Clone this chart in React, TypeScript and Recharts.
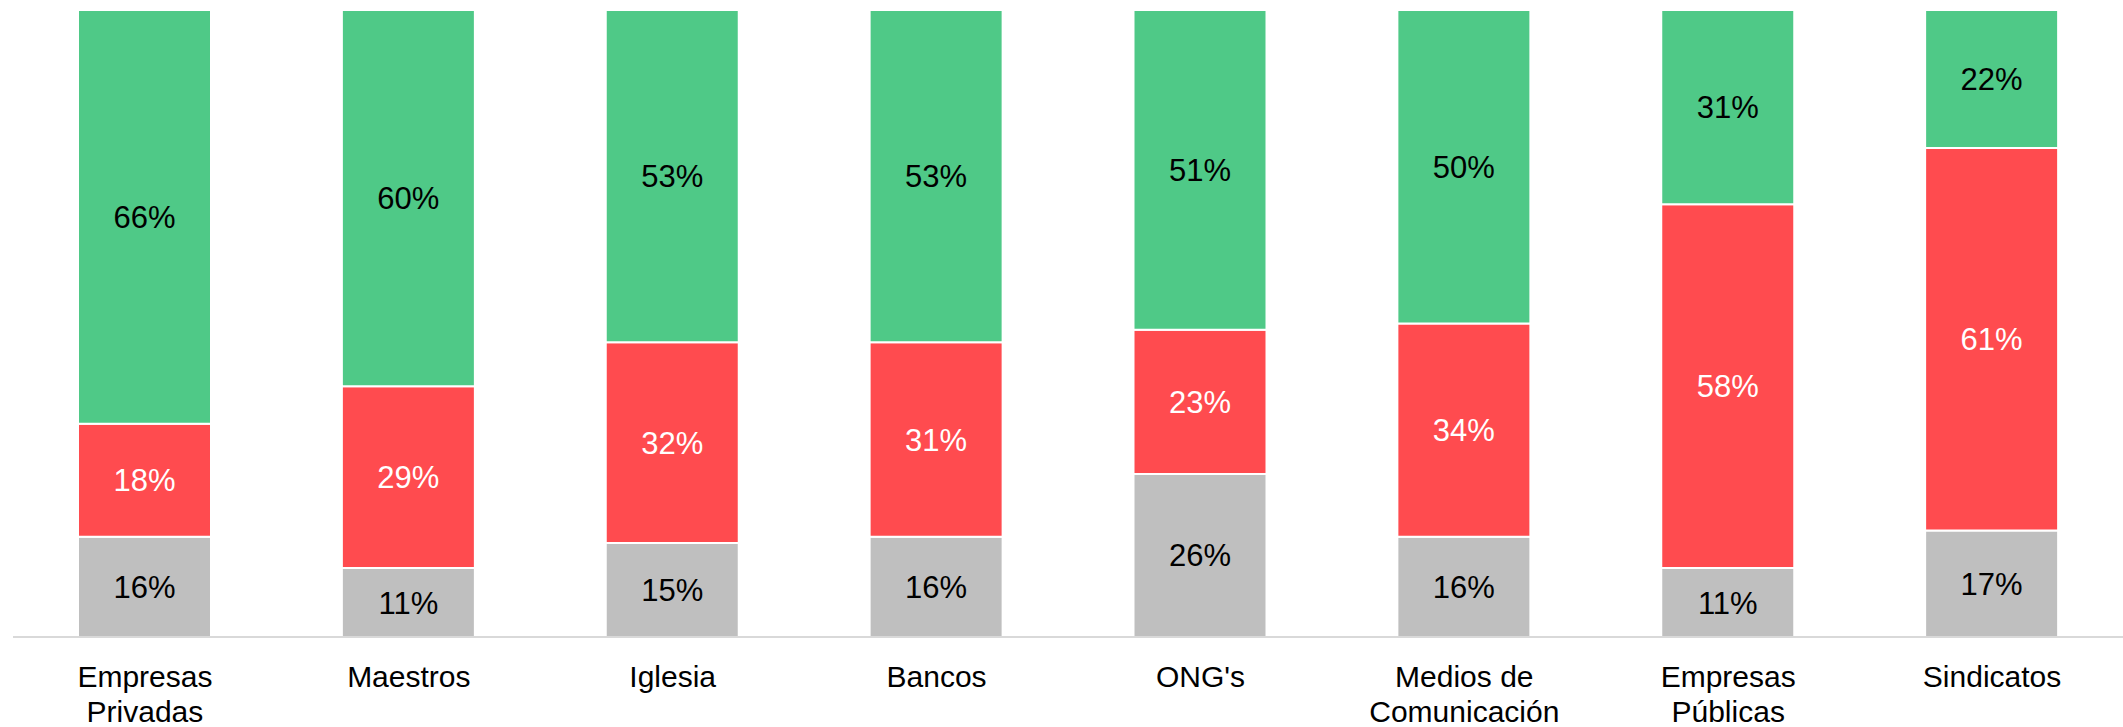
import { BarChart, Bar, XAxis, YAxis, LabelList } from 'recharts';

const categories = [
  'Empresas Privadas',
  'Maestros',
  'Iglesia',
  'Bancos',
  "ONG's",
  'Medios de Comunicación',
  'Empresas Públicas',
  'Sindicatos',
];

// lines used for the two-row axis labels
const tickLines: Record<string, string[]> = {
  'Empresas Privadas': ['Empresas', 'Privadas'],
  'Medios de Comunicación': ['Medios de', 'Comunicación'],
  'Empresas Públicas': ['Empresas', 'Públicas'],
};

const neutral = [16, 11, 15, 16, 26, 16, 11, 17];
const negative = [18, 29, 32, 31, 23, 34, 58, 61];
const positive = [66, 60, 53, 53, 51, 50, 31, 22];

const data = categories.map((name, i) => ({
  name,
  neutral: neutral[i],
  negative: negative[i],
  positive: positive[i],
}));

const LABEL_FONT = 31;
const TICK_FONT = 30;

const CategoryTick = ({ x, y, payload }: any) => {
  const lines = tickLines[payload.value] || [payload.value];
  return (
    <text x={x} y={y} textAnchor="middle" fill="#000" fontSize={TICK_FONT}>
      {lines.map((line, i) => (
        <tspan key={i} x={x} dy={i === 0 ? 50 : 35}>
          {line}
        </tspan>
      ))}
    </text>
  );
};

const pct = (v: any) => `${v}%`;

export default function App() {
  return (
    <div
      style={{
        position: 'absolute',
        left: 0,
        top: 0,
        fontFamily: '"Liberation Sans", Arial, sans-serif',
      }}
    >
      <BarChart
        width={2123}
        height={727}
        data={data}
        margin={{ top: 10, right: -1, bottom: 0, left: 13 }}
        barSize={133}
      >
        <XAxis
          dataKey="name"
          height={90}
          tickLine={false}
          tickSize={0}
          tickMargin={0}
          axisLine={{ stroke: '#D9D9D9', strokeWidth: 2 }}
          tick={<CategoryTick />}
          interval={0}
        />
        <YAxis hide domain={[0, 100]} />
        <Bar dataKey="neutral" stackId="a" fill="#BFBFBF" stroke="#fff" strokeWidth={2} isAnimationActive={false}>
          <LabelList dataKey="neutral" position="center" fill="#000" fontSize={LABEL_FONT} formatter={pct} />
        </Bar>
        <Bar dataKey="negative" stackId="a" fill="#FF4B4F" stroke="#fff" strokeWidth={2} isAnimationActive={false}>
          <LabelList dataKey="negative" position="center" fill="#fff" fontSize={LABEL_FONT} formatter={pct} />
        </Bar>
        <Bar dataKey="positive" stackId="a" fill="#4FC987" stroke="#fff" strokeWidth={2} isAnimationActive={false}>
          <LabelList dataKey="positive" position="center" fill="#000" fontSize={LABEL_FONT} formatter={pct} />
        </Bar>
      </BarChart>
    </div>
  );
}
